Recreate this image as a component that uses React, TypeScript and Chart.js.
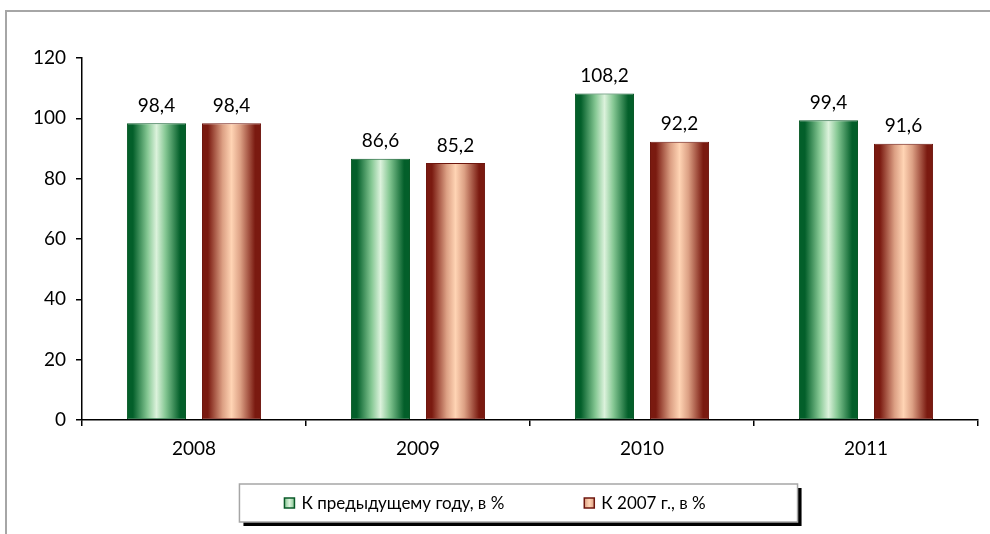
import React, { useEffect, useRef } from "react";
import { Chart, registerables } from "chart.js";

Chart.register(...registerables);

const categories = ["2008", "2009", "2010", "2011"];
const seriesPrev = [98.4, 86.6, 108.2, 99.4];
const series2007 = [98.4, 85.2, 92.2, 91.6];
const seriesLabels = ["К предыдущему году, в %", "К 2007 г., в %"];
const yTicks = [0, 20, 40, 60, 80, 100, 120];

const FONT = "Lato, 'Open Sans', sans-serif";
const CAT_PCT = 0.67;
const BAR_PCT = 0.787;

const palettes = [
  { dark: "#035f2a", mid: "#86c894", light: "#dcf2dc", border: "#0a5a28" },
  { dark: "#7a1a10", mid: "#dca084", light: "#ffd4b4", border: "#6e160e" },
];

function barGradient(ctx: any) {
  const chart = ctx.chart;
  const area = chart.chartArea;
  const pal = palettes[ctx.datasetIndex] || palettes[0];
  if (!area || ctx.type !== "data") return pal.mid;
  const xs = chart.scales.x;
  const catW = (area.right - area.left) / categories.length;
  const slot = (catW * CAT_PCT) / 2;
  const c = xs.getPixelForValue(ctx.dataIndex) + (ctx.datasetIndex === 0 ? -slot / 2 : slot / 2);
  const w = slot * BAR_PCT;
  const g = chart.ctx.createLinearGradient(c - w / 2, 0, c + w / 2, 0);
  g.addColorStop(0, pal.dark);
  g.addColorStop(0.1, pal.dark);
  g.addColorStop(0.35, pal.mid);
  g.addColorStop(0.5, pal.light);
  g.addColorStop(0.65, pal.mid);
  g.addColorStop(0.9, pal.dark);
  g.addColorStop(1, pal.dark);
  return g;
}

const decorPlugin = {
  id: "decor",
  beforeDraw(chart: any) {
    const ctx = chart.ctx;
    ctx.save();
    ctx.strokeStyle = "#a6a6a6";
    ctx.lineWidth = 2;
    ctx.beginPath();
    ctx.moveTo(6, 540);
    ctx.lineTo(6, 11);
    ctx.lineTo(995, 11);
    ctx.stroke();
    ctx.restore();
  },
  afterDatasetsDraw(chart: any) {
    const ctx = chart.ctx;
    ctx.save();
    ctx.font = `19px ${FONT}`;
    ctx.fillStyle = "#000";
    ctx.textAlign = "center";
    ctx.textBaseline = "bottom";
    chart.data.datasets.forEach((ds: any, di: number) => {
      const meta = chart.getDatasetMeta(di);
      meta.data.forEach((el: any, i: number) => {
        const v = ds.data[i];
        ctx.fillText(String(v).replace(".", ","), el.x, el.y - 8);
      });
    });
    ctx.restore();
  },
  afterDraw(chart: any) {
    const ctx = chart.ctx;
    ctx.save();
    ctx.font = `17px ${FONT}`;
    const sq = 10;
    const gapText = 7;
    const gapItems = 80;
    const labels = chart.data.datasets.map((d: any) => d.label);
    const widths = labels.map((l: string) => ctx.measureText(l).width);
    let total = 0;
    widths.forEach((w: number, i: number) => {
      total += sq + gapText + w + (i < widths.length - 1 ? gapItems : 0);
    });
    const cx = 495;
    const startX = cx - total / 2;
    const cy = 503;
    const boxL = startX - 45;
    const boxR = startX + total + 92;
    const boxT = 484;
    const boxB = 522;
    ctx.fillStyle = "#000";
    ctx.fillRect(boxL + 4, boxT + 4, boxR - boxL, boxB - boxT);
    ctx.fillStyle = "#fff";
    ctx.fillRect(boxL, boxT, boxR - boxL, boxB - boxT);
    ctx.strokeStyle = "#a6a6a6";
    ctx.lineWidth = 1.5;
    ctx.strokeRect(boxL, boxT, boxR - boxL, boxB - boxT);
    let x = startX;
    labels.forEach((l: string, i: number) => {
      const pal = palettes[i];
      const g = ctx.createLinearGradient(x, 0, x + sq, 0);
      g.addColorStop(0, pal.mid);
      g.addColorStop(0.5, pal.light);
      g.addColorStop(1, pal.mid);
      ctx.fillStyle = g;
      ctx.fillRect(x, cy - sq / 2, sq, sq);
      ctx.strokeStyle = pal.border;
      ctx.lineWidth = 1.5;
      ctx.strokeRect(x, cy - sq / 2, sq, sq);
      ctx.fillStyle = "#000";
      ctx.textAlign = "left";
      ctx.textBaseline = "middle";
      ctx.fillText(l, x + sq + gapText, cy + 1);
      x += sq + gapText + widths[i] + gapItems;
    });
    ctx.restore();
  },
};

export default function App() {
  const ref = useRef<HTMLCanvasElement | null>(null);
  useEffect(() => {
    if (!ref.current) return;
    const chart = new Chart(ref.current, {
      type: "bar",
      data: {
        labels: categories,
        datasets: [
          {
            label: seriesLabels[0],
            data: seriesPrev,
            backgroundColor: barGradient,
            borderColor: palettes[0].border,
            borderWidth: 1,
            borderSkipped: false,
            categoryPercentage: CAT_PCT,
            barPercentage: BAR_PCT,
          },
          {
            label: seriesLabels[1],
            data: series2007,
            backgroundColor: barGradient,
            borderColor: palettes[1].border,
            borderWidth: 1,
            borderSkipped: false,
            categoryPercentage: CAT_PCT,
            barPercentage: BAR_PCT,
          },
        ],
      },
      options: {
        animation: false,
        responsive: false,
        devicePixelRatio: 1,
        layout: { padding: { top: 58, right: 12, bottom: 64, left: 0 } },
        plugins: { legend: { display: false }, tooltip: { enabled: false } },
        scales: {
          x: {
            grid: { display: true, drawOnChartArea: false, drawTicks: true, tickLength: 6, color: "#000", lineWidth: 1.5 },
            border: { display: true, color: "#000", width: 1.5 },
            ticks: { color: "#000", font: { family: FONT, size: 19 }, padding: 11 },
            afterFit: (s: any) => {
              s.height = 50;
            },
          },
          y: {
            min: 0,
            max: 120,
            afterBuildTicks: (s: any) => {
              s.ticks = yTicks.map((v) => ({ value: v }));
            },
            grid: { display: true, drawOnChartArea: false, drawTicks: true, tickLength: 6, color: "#000", lineWidth: 1.5 },
            border: { display: true, color: "#000", width: 1.5 },
            ticks: { color: "#000", font: { family: FONT, size: 19 }, padding: 10 },
            afterFit: (s: any) => {
              s.width = 82;
            },
          },
        },
      },
      plugins: [decorPlugin],
    });
    return () => chart.destroy();
  }, []);
  return (
    <div style={{ position: "fixed", left: 0, top: 0, width: 990, height: 534, background: "#fff" }}>
      <canvas ref={ref} width={990} height={534} style={{ width: 990, height: 534, display: "block" }} />
    </div>
  );
}
